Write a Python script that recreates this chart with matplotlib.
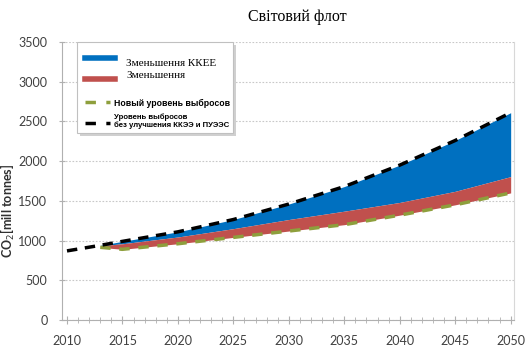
import numpy as np
import matplotlib.pyplot as plt
from matplotlib.lines import Line2D
from matplotlib.patches import Rectangle

# ── data ───────────────────────────────────────────────────────────────
years_base = [2010, 2013, 2015, 2020, 2025, 2030, 2035, 2040, 2045, 2050]
baseline = [870, 940, 990, 1110, 1265, 1460, 1680, 1950, 2260, 2610]

years_new = [2013, 2015, 2020, 2025, 2030, 2035, 2040, 2045, 2050]
base_on_new = [940, 990, 1110, 1265, 1460, 1680, 1950, 2260, 2610]
reduced_top = [935, 960, 1045, 1150, 1265, 1370, 1480, 1620, 1805]
new_level = [915, 890, 960, 1040, 1120, 1200, 1320, 1450, 1600]

label_eedi = 'Зменьшення ККЕЕ'
label_red = 'Зменьшення'
label_new = 'Новый уровень выбросов'
label_base = 'Уровень выбросов\nбез улучшения ККЭЭ и ПУЭЭС'
title = 'Світовий флот'

blue = '#0070C0'
red = '#C0504D'
green = '#8E9F3C'
W, H = 527, 351

fig = plt.figure(figsize=(W / 100, H / 100), dpi=100)
ax = fig.add_axes([62 / W, 1 - 320 / H, (514 - 62) / W, (320 - 42) / H])

ax.fill_between(years_new, reduced_top, base_on_new, color=blue, lw=0, zorder=2)
ax.fill_between(years_new, new_level, reduced_top, color=red, lw=0, zorder=2)
ax.plot(years_new, new_level, color=green, lw=2.5, dashes=(3, 2.5), zorder=3)
ax.plot(years_base, baseline, color='black', lw=2.5, dashes=(3, 2.2), zorder=4)

ax.set_xlim(2009.55, 2050.3)
ax.set_ylim(0, 3500)
ax.set_xticks(range(2010, 2051, 5))
ax.set_xticks(range(2010, 2051, 1), minor=True)
ax.set_yticks(range(0, 3501, 500))
ax.grid(axis='y', color='#c8c8c8', ls=(0, (1.5, 1.5)), lw=0.8, zorder=0)
ax.tick_params(axis='both', which='both', direction='inout', color='#b0b0b0',
               labelcolor='#404040', labelsize=9)
ax.tick_params(axis='x', which='major', length=6, pad=8)
ax.tick_params(axis='x', which='minor', length=5)
ax.tick_params(axis='y', length=5, pad=8)
for lab in ax.get_xticklabels() + ax.get_yticklabels():
    lab.set_family('Lato')
ax.spines['top'].set_visible(False)
ax.spines['left'].set_color('#b0b0b0')
ax.spines['bottom'].set_color('#b0b0b0')
ax.spines['right'].set_color('#d8d8d8')

fig.text(8 / W, 1 - 211 / H, 'CO$_2$[mill tonnes]', rotation=90, ha='center',
         va='center', fontsize=9, fontweight='bold', family='Lato', color='#303030')
fig.text(297 / W, 1 - 17 / H, title, ha='center', va='center', fontsize=11.5,
         family='Liberation Serif')

# ── hand-built legend box ─────────────────────────────────────────────
def fx(px):
    return px / W

def fy(py):
    return 1 - py / H

fig.patches.append(Rectangle((fx(80), fy(136)), fx(156), 91 / H, transform=fig.transFigure,
                             facecolor='#d0d0d0', edgecolor='none', zorder=5))
fig.patches.append(Rectangle((fx(77), fy(133)), fx(156), 91 / H, transform=fig.transFigure,
                             facecolor='white', edgecolor='#c0c0c0', lw=0.8, zorder=6))
fig.lines.append(Line2D([fx(85), fx(115)], [fy(58), fy(58)], transform=fig.transFigure,
                        color=blue, lw=4, zorder=7))
fig.lines.append(Line2D([fx(85), fx(115)], [fy(79), fy(79)], transform=fig.transFigure,
                        color=red, lw=4, zorder=7))
fig.lines.append(Line2D([fx(85), fx(110)], [fy(102), fy(102)], transform=fig.transFigure,
                        color=green, lw=2.5, dashes=(3, 3), zorder=7))
fig.lines.append(Line2D([fx(85), fx(110)], [fy(123), fy(123)], transform=fig.transFigure,
                        color='black', lw=2.5, dashes=(3, 3), zorder=7))
fig.text(fx(126), fy(63), label_eedi, fontsize=8, family='Liberation Serif',
         va='center', zorder=8)
fig.text(fx(126), fy(76), label_red, fontsize=8, family='Liberation Serif',
         va='center', zorder=8)
fig.text(fx(114), fy(103), label_new, fontsize=6.3, fontweight='bold',
         family='Liberation Sans', va='center', zorder=8)
fig.text(fx(114), fy(121), label_base, fontsize=5.6, fontweight='bold',
         family='Liberation Sans', va='center', linespacing=1.15, zorder=8)

fig.savefig('out.png', dpi=100)
